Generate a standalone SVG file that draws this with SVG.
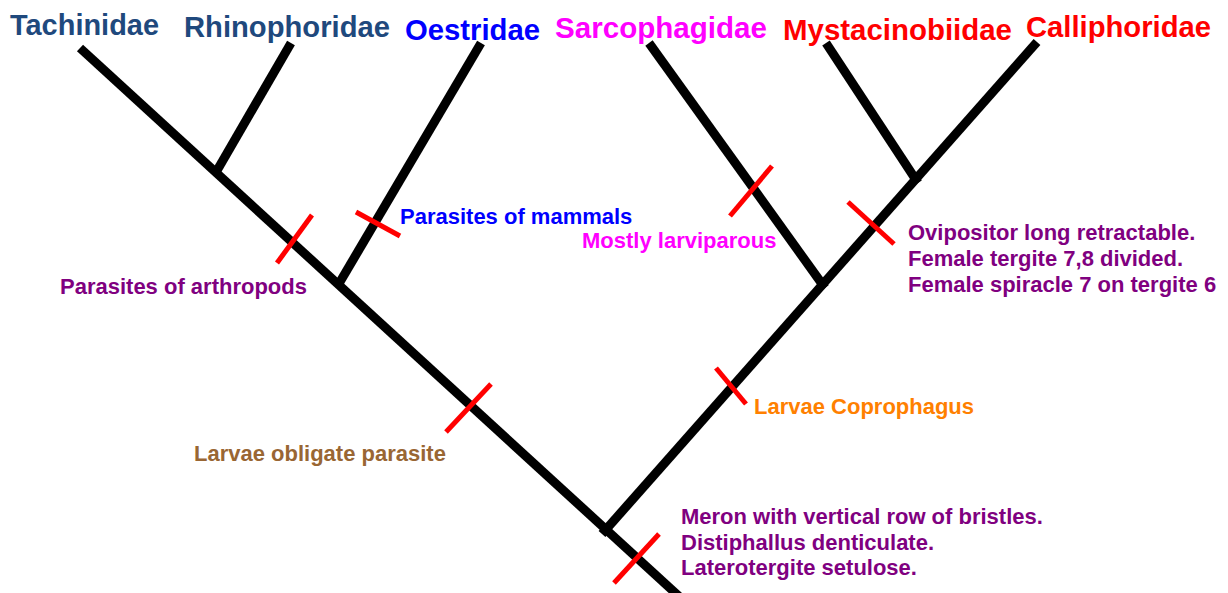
<svg xmlns="http://www.w3.org/2000/svg" width="1228" height="593" viewBox="0 0 1228 593">
<style>
.br{stroke:#000;stroke-width:9;stroke-linecap:butt;fill:none}
.tk{stroke:#FF0000;stroke-width:5;stroke-linecap:butt}
.hd{font-family:"Liberation Sans",Arial,sans-serif;font-weight:bold;font-size:29.5px}
.an{font-family:"Liberation Sans",Arial,sans-serif;font-weight:bold;font-size:22px}
</style>
<rect width="1228" height="593" fill="#fff"/>
<g id="connectors">
<line class="br" x1="80" y1="48" x2="683" y2="600"/>
<line class="br" x1="291" y1="43" x2="215" y2="174"/>
<line class="br" x1="481" y1="43" x2="337" y2="287"/>
<line class="br" x1="649" y1="43" x2="825" y2="288"/>
<line class="br" x1="826" y1="43" x2="918" y2="183"/>
<line class="br" x1="1037" y1="42" x2="602" y2="534"/>
</g>
<g id="ticks">
<line class="tk" x1="312" y1="215" x2="277" y2="263"/>
<line class="tk" x1="356" y1="212" x2="400" y2="236"/>
<line class="tk" x1="491" y1="384" x2="446" y2="432"/>
<line class="tk" x1="772" y1="166" x2="730" y2="216"/>
<line class="tk" x1="848" y1="202" x2="894" y2="244"/>
<line class="tk" x1="716" y1="368" x2="746" y2="404"/>
<line class="tk" x1="659" y1="534" x2="614" y2="583"/>
</g>
<g id="Tachinidae"><text class="hd" x="10" y="35" fill="#1F497D" textLength="149" lengthAdjust="spacingAndGlyphs">Tachinidae</text></g>
<g id="Rhinophoridae"><text class="hd" x="184" y="37" fill="#1F497D" textLength="206" lengthAdjust="spacingAndGlyphs">Rhinophoridae</text></g>
<g id="Oestridae"><text class="hd" x="405" y="40" fill="#0000FF" textLength="135" lengthAdjust="spacingAndGlyphs">Oestridae</text></g>
<g id="Sarcophagidae"><text class="hd" x="555" y="38" fill="#FF00FF" textLength="212" lengthAdjust="spacingAndGlyphs">Sarcophagidae</text></g>
<g id="Mystacinobiidae"><text class="hd" x="783" y="40" fill="#FF0000" textLength="229" lengthAdjust="spacingAndGlyphs">Mystacinobiidae</text></g>
<g id="Calliphoridae"><text class="hd" x="1026" y="37" fill="#FF0000" textLength="185" lengthAdjust="spacingAndGlyphs">Calliphoridae</text></g>
<g id="mammals"><text class="an" x="400" y="224" fill="#0000FF">Parasites of mammals</text></g>
<g id="larviparous"><text class="an" x="582" y="248" fill="#FF00FF">Mostly larviparous</text></g>
<g id="arthropods"><text class="an" x="60" y="294" fill="#800080">Parasites of arthropods</text></g>
<g id="obligate"><text class="an" x="194" y="461" fill="#996633">Larvae obligate parasite</text></g>
<g id="coprophagus"><text class="an" x="754" y="414" fill="#FF8000">Larvae Coprophagus</text></g>
<g id="ovipositor">
<text class="an" x="908" y="240" fill="#800080">Ovipositor long retractable.</text>
<text class="an" x="908" y="266" fill="#800080">Female tergite 7,8 divided.</text>
<text class="an" x="908" y="292" fill="#800080">Female spiracle 7 on tergite 6</text>
</g>
<g id="meron">
<text class="an" x="681" y="524" fill="#800080">Meron with vertical row of bristles.</text>
<text class="an" x="681" y="550" fill="#800080">Distiphallus denticulate.</text>
<text class="an" x="681" y="575" fill="#800080">Laterotergite setulose.</text>
</g>
</svg>
